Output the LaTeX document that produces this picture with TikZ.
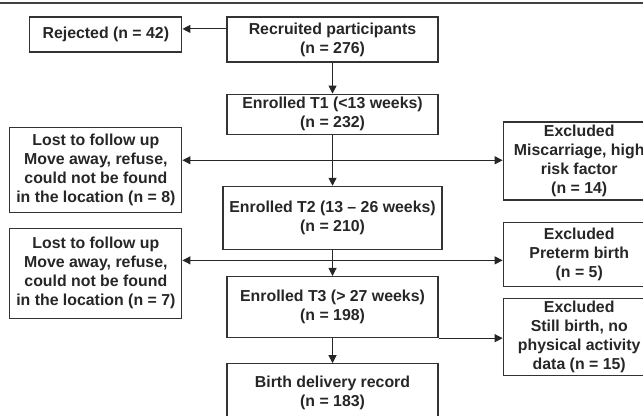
\documentclass[tikz,border=0pt]{standalone}
\usepackage{fontspec}
\setmainfont{Liberation Sans}
\usetikzlibrary{arrows.meta, positioning, calc}

\begin{document}
\begin{tikzpicture}[
  node distance=1cm,
  box/.style={rectangle, draw=black!80, line width=0.9pt, align=center,
    font=\fontsize{11.9}{14.25}\selectfont\bfseries, text=black!85,
    inner sep=2pt},
  main/.style={box, minimum width=158.25pt},
  lost/.style={box, minimum width=129pt},
  excl/.style={box, minimum width=114pt},
  link/.style={-{Triangle[length=6pt,width=6pt]}, line width=0.75pt,
    draw=black!85},
  twoway/.style={{Triangle[length=6pt,width=6pt]}-{Triangle[length=6pt,width=6pt]},
    line width=0.75pt, draw=black!85}
]
  \useasboundingbox (0,0) rectangle (482.25pt,-311.25pt);
  \draw[line width=1.4pt, black!75] (0,-2pt) -- (482.25pt,-2pt);

  \node[main, minimum height=33.75pt] (rec) at (249.4pt,-29.6pt)
    {Recruited participants\\(n = 276)};
  \node[box, minimum width=114pt, minimum height=26.25pt,
    left=33pt of rec.north west, anchor=north east] (rej) {Rejected (n = 42)};
  \node[main, minimum height=30pt, below=23.25pt of rec] (t1)
    {Enrolled T1 (<13 weeks)\\(n = 232)};
  \node[main, minimum width=164.25pt, minimum height=47.25pt,
    below=38.25pt of t1] (t2) {Enrolled T2 (13 – 26 weeks)\\(n = 210)};
  \node[main, minimum height=45.75pt, below=19.5pt of t2] (t3)
    {Enrolled T3 (> 27 weeks)\\(n = 198)};
  \node[main, minimum height=43.5pt, below=18.75pt of t3] (birth)
    {Birth delivery record\\(n = 183)};

  \node[lost, minimum height=63.75pt, below=55.5pt of rej.south east,
    anchor=north east] (lost1)
    {Lost to follow up\\Move away, refuse,\\could not be found\\in the location (n = 8)};
  \node[lost, minimum height=67.5pt, below=11.25pt of lost1] (lost2)
    {Lost to follow up\\Move away, refuse,\\could not be found\\in the location (n = 7)};

  \node[excl, minimum height=58.5pt,
    below right=78.75pt and 48pt of rec.north east] (ex1)
    {Excluded\\Miscarriage, high\\risk factor\\(n = 14)};
  \node[excl, minimum height=48pt, below=15.75pt of ex1] (ex2)
    {Excluded\\Preterm birth\\(n = 5)};
  \node[excl, minimum height=57.75pt, below=8.25pt of ex2] (ex3)
    {Excluded\\Still birth, no\\physical activity\\data (n = 15)};

  % side branches
  \coordinate (r1) at ([yshift=7.9pt]rec.west);
  \coordinate (j1) at ($(t1.south)!0.5!(t2.north)$);
  \coordinate (j2) at ($(t2.south)!0.4!(t3.north)$);

  \draw[link] (r1) -- (r1 -| rej.east);
  \draw[link] (rec) -- (t1);
  \draw[link] (t1) -- (t2);
  \draw[link] (t2) -- (t3);
  \draw[link] (t3) -- (birth);
  \draw[twoway] (j1 -| lost1.east) -- (j1 -| ex1.west);
  \draw[twoway] (j2 -| lost2.east) -- (j2 -| ex2.west);
  \draw[link] (t3.south east) -- (t3.south east -| ex3.west);
\end{tikzpicture}
\end{document}
